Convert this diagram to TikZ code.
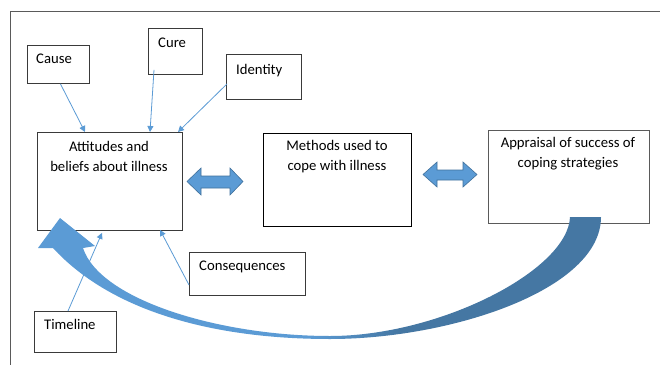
\documentclass[tikz,border=0pt]{standalone}
\usepackage{fontspec}
\setmainfont{Carlito}
\usetikzlibrary{arrows.meta,calc}
\definecolor{lb}{HTML}{5B9BD5}
\definecolor{db}{HTML}{4577A3}
\definecolor{edgeb}{HTML}{41719C}
\definecolor{boxline}{HTML}{3A3A3A}
\definecolor{framegray}{HTML}{5A5A5A}
\pgfdeclarehorizontalshading{curveshade}{100bp}{color(0bp)=(lb); color(49bp)=(lb); color(57bp)=(db); color(100bp)=(db)}
\begin{document}
\begin{tikzpicture}[x=1pt,y=-1pt,
  box/.style={draw=boxline,line width=0.9pt,fill=white,rectangle,inner sep=0pt,anchor=north west},
  lbl/.style={inner sep=0pt,font=\fontsize{14.7}{20}\selectfont},
  thin/.style={draw=lb,line width=0.8pt,-{Triangle[length=6pt,width=6pt]}},
  blockarrow/.style={fill=lb,draw=edgeb,line width=0.6pt,line join=miter}]
\useasboundingbox (0,0) rectangle (660,364);
\fill[white] (0,0) rectangle (660,364);
% outer frame
\draw[framegray,line width=0.9pt] (662,11.5) -- (10,11.5) -- (10,366);

% boxes
\node[box,minimum width=62,minimum height=38] (cause) at (27,45) {};
\node[box,minimum width=54,minimum height=46] (cure) at (148,28) {};
\node[box,minimum width=75,minimum height=45] (identity) at (226,54) {};
\node[box,minimum width=145,minimum height=98] (att) at (37,132) {};
\node[box,minimum width=148,minimum height=93,draw=black] (meth) at (263,133) {};
\node[box,minimum width=161,minimum height=93,draw=framegray] (appr) at (488,130) {};
\node[box,minimum width=116,minimum height=43] (cons) at (189,252) {};
\node[box,minimum width=82,minimum height=41] (timeline) at (34,311) {};

% texts
\node[lbl,anchor=base west] (causet) at (36,63) {Cause};
\node[lbl,anchor=base west] (curet) at (158,47) {Cure};
\node[lbl,anchor=base west] (identityt) at (236,74) {Identity};
\node[lbl,anchor=base west] (const) at (199,270) {Consequences};
\node[lbl,anchor=base west] (timelinet) at (44,329) {Timeline};
\node[lbl,align=center] (attt) at (109,156) {Attitudes and\\beliefs about illness};
\node[lbl,align=center] (metht) at (337,157) {Methods used to\\cope with illness};
\node[lbl,align=center] (apprt) at (568,154) {Appraisal of success of\\coping strategies};

% thin arrows
\draw[thin] ([xshift=2pt]cause.south) -- ([xshift=48pt]att.north west);
\draw[thin] ([shift={(6,-5)}]cure.south west) -- ([xshift=113pt]att.north west);
\draw[thin] ([shift={(1,-16)}]identity.south west) -- ([xshift=141pt]att.north west);
\draw[thin] ([xshift=34pt]timeline.north west) -- ([shift={(65,2)}]att.south west);
\draw[thin] ([shift={(0,-11)}]cons.south west) -- ([shift={(123,-1)}]att.south west);

% block double arrows
\draw[blockarrow] (187,181.5) -- (201,168) -- (201,176) -- (230,176) -- (230,168) -- (243,181.5)
  -- (230,195) -- (230,188) -- (201,188) -- (201,195) -- cycle;
\draw[blockarrow] (423,174.5) -- (437,162) -- (437,170) -- (463,170) -- (463,162) -- (477,174.5)
  -- (463,187) -- (463,180) -- (437,180) -- (437,187) -- cycle;

% curved feedback arrow
\path[shading=curveshade] (601,217) .. controls (601,290) and (450,339) .. (330,339)
  .. controls (210,339) and (110,310) .. (53,248)
  -- (38,248) -- (60,218) -- (95,246) -- (83,248)
  .. controls (100,300) and (220,336) .. (330,336)
  .. controls (440,336) and (568,270) .. (570,217) -- cycle;
\end{tikzpicture}
\end{document}
